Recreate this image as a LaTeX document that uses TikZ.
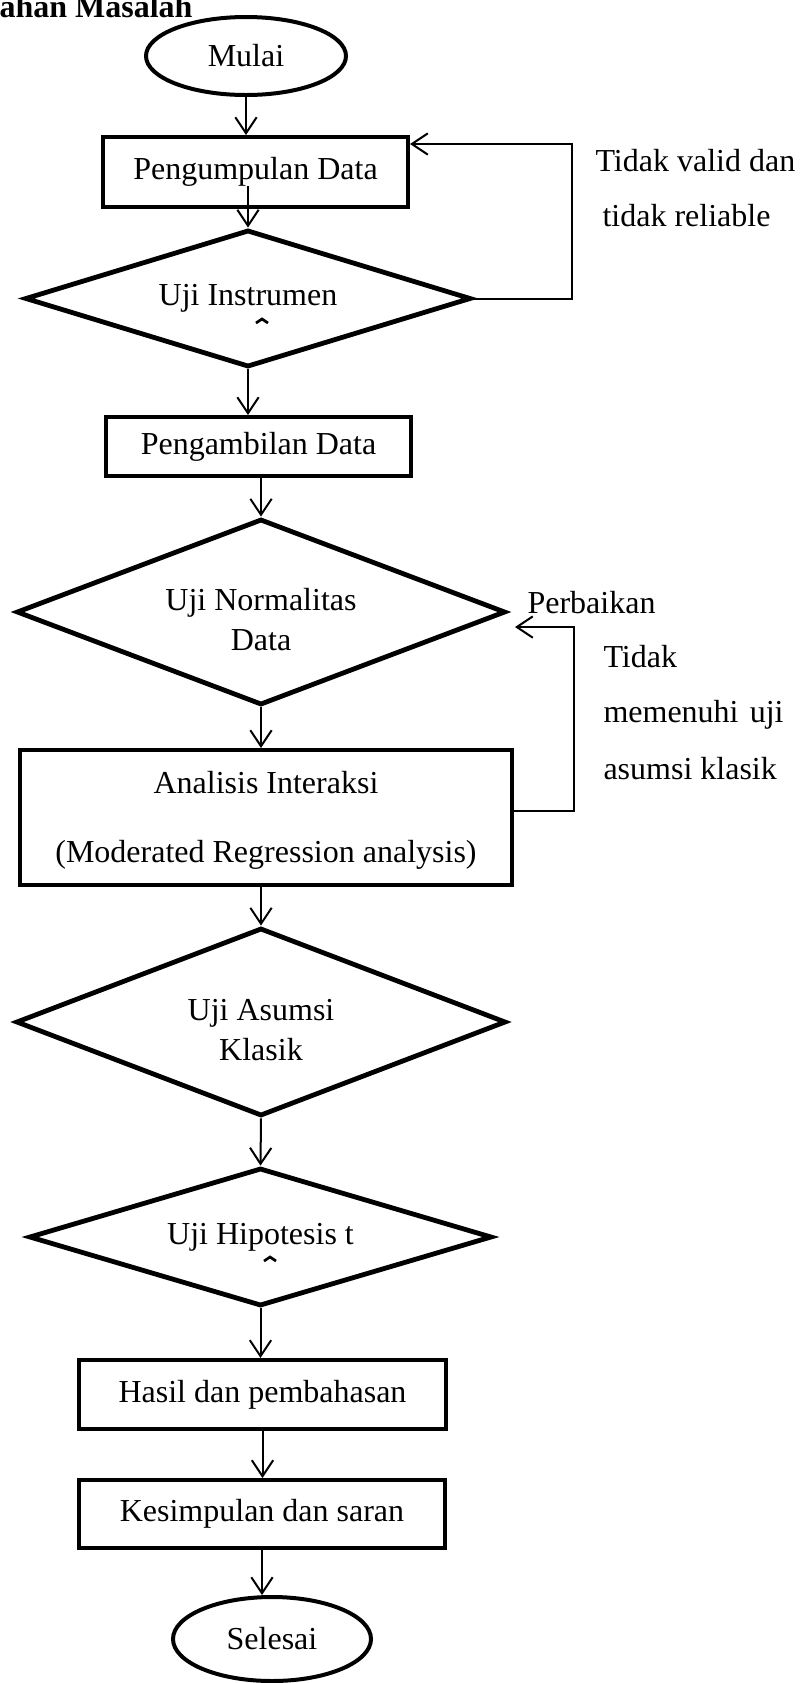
\documentclass[tikz,border=0pt]{standalone}
\usepackage{fontspec}
\setmainfont{Liberation Serif}
\usepackage{tikz}
\usetikzlibrary{shapes.geometric}
\usetikzlibrary{arrows.meta}

\begin{document}
\begin{tikzpicture}[x=0.375pt, y=-0.375pt,
  font=\fontsize{12}{15}\selectfont,
  >={Straight Barb[length=6pt,width=8pt]},
  terminal/.style={draw, ellipse, line width=1.5pt, inner sep=0pt},
  proses/.style={draw, rectangle, line width=1.5pt, inner sep=0pt, align=center},
  uji/.style={draw, diamond, aspect=3, line width=1.8pt, inner sep=0pt, align=center},
  catatan/.style={anchor=base west, inner sep=0pt},
  panah/.style={->, line width=0.75pt}]

  \useasboundingbox (0,0) rectangle (803,1683);
  \clip (0,0) rectangle (803,1683);

  % judul (terpotong di atas)
  \node[catatan, font=\fontsize{12}{15}\selectfont\bfseries] (judul) at (-1,17) {ahan Masalah};

  % alur utama
  \node[terminal, minimum width=75pt, minimum height=29.25pt] (mulai) at (246,56) {Mulai};
  \node[proses, minimum width=114.4pt, minimum height=26.25pt] (kumpul) at (255.5,172) {Pengumpulan Data};
  \node[uji, minimum width=167.25pt, minimum height=51.4pt] (ujiins) at (248,298.5) {Uji Instrumen};
  \node[proses, minimum width=114.4pt, minimum height=22.1pt] (ambil) at (258.5,446.5) {Pengambilan Data};
  \node[uji, minimum width=183.4pt, minimum height=69.75pt] (normal) at (261,612)
    {\rule{0pt}{14.25pt}Uji Normalitas\\Data};
  \node[proses, minimum width=184.5pt, minimum height=50.6pt, font=\fontsize{12}{25.9}\selectfont] (analisis) at (266,817.5)
    {\rule{0pt}{10.5pt}Analisis Interaksi\\(Moderated Regression analysis)};
  \node[uji, minimum width=183.75pt, minimum height=70.5pt] (asumsi) at (261,1022)
    {\rule{0pt}{14.25pt}Uji Asumsi\\Klasik};
  \node[uji, minimum width=173.6pt, minimum height=51.75pt] (hipotesis) at (260.5,1237) {Uji Hipotesis t};
  \node[proses, minimum width=137.6pt, minimum height=25.9pt] (hasil) at (262.5,1394.5) {Hasil dan pembahasan};
  \node[proses, minimum width=137.25pt, minimum height=25.5pt] (simpulan) at (262,1514) {Kesimpulan dan saran};
  \node[terminal, minimum width=74.25pt, minimum height=31.5pt] (selesai) at (272,1639) {Selesai};

  % catatan di kanan
  \node[catatan] (tdkvalid) at (595,171) {Tidak valid dan};
  \node[catatan] (tdkreliable) at (602,226) {tidak reliable};
  \node[catatan] (perbaikan) at (527,613) {Perbaikan};
  \node[catatan] (tidak) at (603,667) {Tidak};
  \node[catatan] (memenuhi) at (603,722) {\makebox[67.5pt][s]{memenuhi uji}};
  \node[catatan] (klasik) at (603,779) {asumsi klasik};

  \coordinate (kumpulA) at (248,186);
  \coordinate (loopA) at (572,144);
  \coordinate (loopB) at (574,627);
  \coordinate (ujungB) at (515,627);

  \draw[panah] (mulai.south) -- (mulai.south |- kumpul.north);
  \draw[panah] (kumpulA) -- (ujiins.north);
  \draw[panah] (ujiins.south) -- (ujiins.south |- ambil.north);
  \draw[panah] (normal.north |- ambil.south) -- (normal.north);
  \draw[panah] (normal.south) -- (normal.south |- analisis.north);
  \draw[panah] (asumsi.north |- analisis.south) -- (asumsi.north);
  \draw[panah] (asumsi.south) -- (hipotesis.north);
  \draw[panah] (hipotesis.south) -- (hipotesis.south |- hasil.north);
  \draw[panah] (hasil.south) -- (hasil.south |- simpulan.north);
  \draw[panah] (simpulan.south) -- (simpulan.south |- selesai.north);

  % umpan balik
  \draw[panah] (ujiins.east) -| (loopA) -- (loopA -| kumpul.east);
  \draw[panah] ([yshift=2.4pt]analisis.east) -| (loopB) -- (ujungB);

  % tanda kecil di bawah teks
  \draw[line width=1pt] (256,323) -- (262,319) -- (268,323);
  \draw[line width=1pt] (264,1261) -- (270,1257) -- (276,1261);

\end{tikzpicture}
\end{document}
